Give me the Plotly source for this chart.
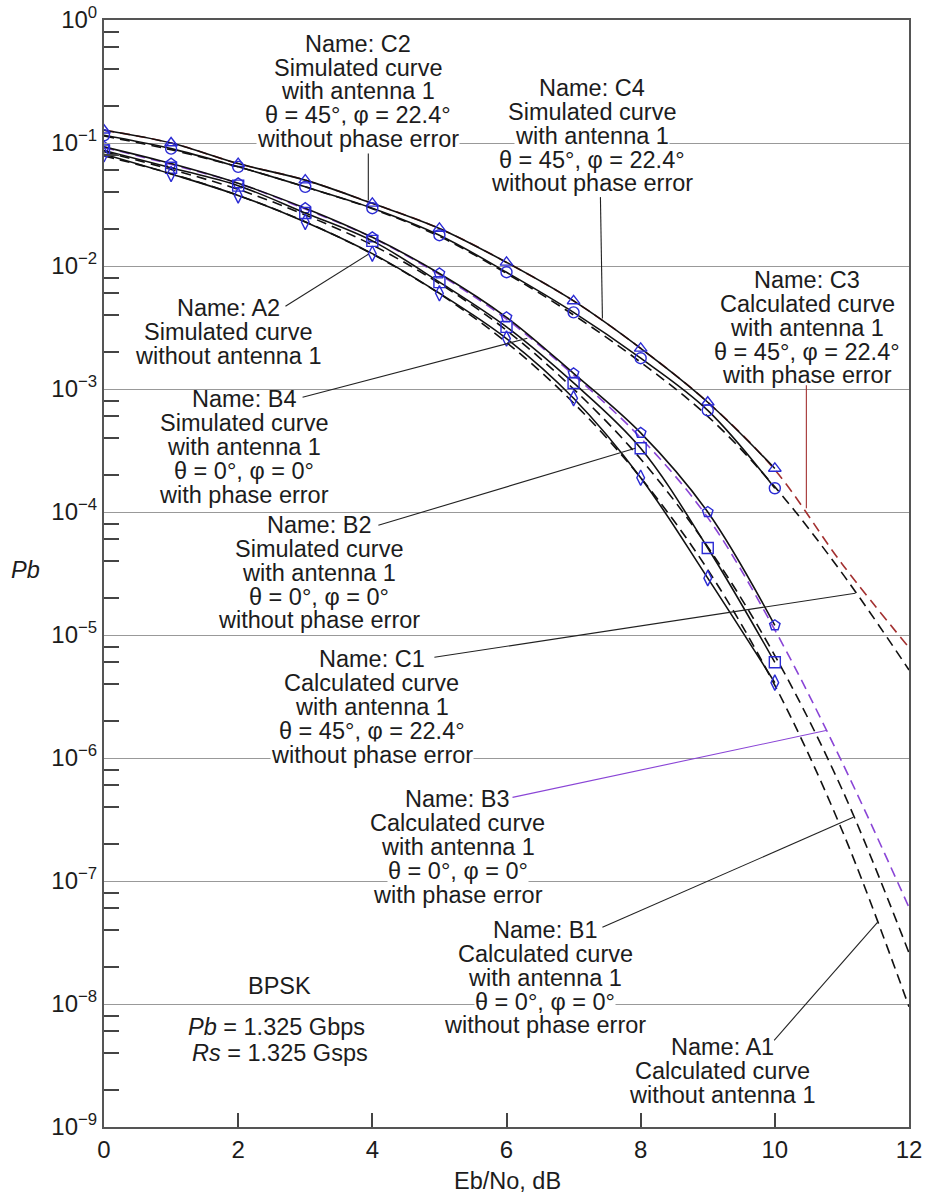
import plotly.graph_objects as go

# ---------------- data ----------------
eb_sim = [0, 1, 2, 3, 4, 5, 6, 7, 8, 9, 10]
eb_calc = [0, 1, 2, 3, 4, 5, 6, 7, 8, 9, 10, 11, 12]

# simulated curves (markers + solid line)
a2_sim = [0.081, 0.056, 0.0375, 0.0228, 0.0126, 0.0060, 0.00257, 8.4e-4, 1.9e-4, 2.9e-5, 4.1e-6]
b2_sim = [0.087, 0.063, 0.045, 0.027, 0.016, 0.0074, 0.0032, 1.12e-3, 3.3e-4, 5.1e-5, 6.0e-6]
b4_sim = [0.093, 0.068, 0.047, 0.0295, 0.0171, 0.0087, 0.00383, 1.34e-3, 4.4e-4, 1.0e-4, 1.2e-5]
c2_sim = [0.1155, 0.090, 0.064, 0.044, 0.0295, 0.0178, 0.0089, 0.0042, 1.78e-3, 6.7e-4, 1.56e-4]
c4_sim = [0.127, 0.100, 0.068, 0.0499, 0.0323, 0.0202, 0.0107, 0.0052, 2.14e-3, 7.8e-4, 2.26e-4]

# calculated curves (dashed)
a1_calc = [0.0786, 0.0563, 0.0375, 0.0229, 0.0125, 0.00595, 0.00239, 7.7e-4, 1.9e-4, 3.4e-5, 3.9e-6, 2.6e-7, 9.5e-9]
b1_calc = [0.085, 0.061, 0.042, 0.026, 0.0148, 0.0072, 0.0030, 1.0e-3, 2.7e-4, 5.2e-5, 6.8e-6, 5.6e-7, 2.6e-8]
b3_calc = [0.092, 0.067, 0.047, 0.029, 0.017, 0.0085, 0.0037, 1.3e-3, 4.0e-4, 9.0e-5, 1.1e-5, 9.3e-7, 6.1e-8]
c1_calc = [0.114, 0.088, 0.064, 0.044, 0.0292, 0.0174, 0.0087, 0.0040, 1.65e-3, 6.0e-4, 1.6e-4, 3.2e-5, 5.2e-6]
c3_calc = [0.127, 0.100, 0.068, 0.0499, 0.0323, 0.0202, 0.0107, 0.0052, 2.14e-3, 7.8e-4, 2.2e-4, 3.8e-5, 7.9e-6]

# axis ticks
x_tick_vals = [0, 2, 4, 6, 8, 10, 12]
x_tick_text = ["0", "2", "4", "6", "8", "10", "12"]
y_tick_vals = [1e0, 1e-1, 1e-2, 1e-3, 1e-4, 1e-5, 1e-6, 1e-7, 1e-8, 1e-9]
y_tick_text = ["10<sup>0</sup>", "10<sup>−1</sup>", "10<sup>−2</sup>", "10<sup>−3</sup>",
               "10<sup>−4</sup>", "10<sup>−5</sup>", "10<sup>−6</sup>", "10<sup>−7</sup>",
               "10<sup>−8</sup>", "10<sup>−9</sup>"]
minor_long_mult = [2, 4, 6, 8]
minor_short_mult = [3, 5, 7, 9]

# label texts
lbl_c2 = ["Name: C2", "Simulated curve", "with antenna 1", "θ = 45°, φ = 22.4°", "without phase error"]
lbl_c4 = ["Name: C4", "Simulated curve", "with antenna 1", "θ = 45°, φ = 22.4°", "without phase error"]
lbl_c3 = ["Name: C3", "Calculated curve", "with antenna 1", "θ = 45°, φ = 22.4°", "with phase error"]
lbl_a2 = ["Name: A2", "Simulated curve", "without antenna 1"]
lbl_b4 = ["Name: B4", "Simulated curve", "with antenna 1", "θ = 0°, φ = 0°", "with phase error"]
lbl_b2 = ["Name: B2", "Simulated curve", "with antenna 1", "θ = 0°, φ = 0°", "without phase error"]
lbl_c1 = ["Name: C1", "Calculated curve", "with antenna 1", "θ = 45°, φ = 22.4°", "without phase error"]
lbl_b3 = ["Name: B3", "Calculated curve", "with antenna 1", "θ = 0°, φ = 0°", "with phase error"]
lbl_b1 = ["Name: B1", "Calculated curve", "with antenna 1", "θ = 0°, φ = 0°", "without phase error"]
lbl_a1 = ["Name: A1", "Calculated curve", "without antenna 1"]

# ---------------- styling ----------------
FONT = "Liberation Sans, Arial, Helvetica, sans-serif"
FS = 23.5
TFS = 24
LINE_H = 23.8
BLUE = "#2b2bd4"
PURPLE = "#8a45d6"
DRED = "#a33030"
TXT = "#1c1c1c"
DASH = "10px,6px"

fig = go.Figure()

def calc_trace(y, color):
    fig.add_trace(go.Scatter(x=eb_calc, y=y, mode="lines",
                             line=dict(color=color, width=1.6, dash=DASH, shape="spline"),
                             showlegend=False, hoverinfo="skip"))

def sim_trace(y, symbol):
    fig.add_trace(go.Scatter(x=eb_sim, y=y, mode="lines+markers",
                             line=dict(color="#111111", width=1.6, shape="spline"),
                             marker=dict(symbol=symbol, size=11, color=BLUE,
                                         line=dict(width=1.4, color=BLUE)),
                             showlegend=False, hoverinfo="skip"))

calc_trace(c3_calc, DRED)
calc_trace(c1_calc, "#111111")
calc_trace(b3_calc, PURPLE)
calc_trace(b1_calc, "#111111")
calc_trace(a1_calc, "#111111")

sim_trace(c4_sim, "triangle-up-open")
sim_trace(c2_sim, "circle-open")
sim_trace(b4_sim, "pentagon-open")
sim_trace(b2_sim, "square-open")
sim_trace(a2_sim, "diamond-tall-open")

# ---------------- labels ----------------
def add_label(lines, x, logy, bg=(), size=FS):
    for i, t in enumerate(lines):
        fig.add_annotation(x=x, y=logy, xref="x", yref="y", text=t, showarrow=False,
                           yshift=-i * LINE_H, xanchor="center", yanchor="middle",
                           font=dict(family=FONT, size=size, color=TXT),
                           bgcolor="white" if i in bg else "rgba(0,0,0,0)", borderpad=0)

add_label(lbl_c2, 3.79, -0.194, bg=(4,))
add_label(lbl_c4, 7.28, -0.555, bg=(2,))
add_label(lbl_c3, 10.48, -2.116)
add_label(lbl_a2, 1.855, -2.344)
add_label(lbl_b4, 2.094, -3.084)
add_label(lbl_b2, 3.21, -4.108)
add_label(lbl_c1, 3.99, -5.198, bg=(4,))
add_label(lbl_b3, 5.27, -6.336, bg=(3,))
add_label(lbl_b1, 6.58, -7.40, bg=(3,))
add_label(lbl_a1, 9.22, -8.352)

# BPSK block
fig.add_annotation(x=2.615, y=-7.856, xref="x", yref="y", text="BPSK", showarrow=False,
                   xanchor="center", font=dict(family=FONT, size=FS, color=TXT))
fig.add_annotation(x=2.57, y=-8.19, xref="x", yref="y", text="<i>Pb</i> = 1.325 Gbps",
                   showarrow=False, xanchor="center", font=dict(family=FONT, size=FS, color=TXT))
fig.add_annotation(x=2.63, y=-8.40, xref="x", yref="y", text="<i>Rs</i> = 1.325 Gsps",
                   showarrow=False, xanchor="center", font=dict(family=FONT, size=FS, color=TXT))

# axis titles
fig.add_annotation(x=-0.097, y=-4.475, xref="paper", yref="y", text="<i>Pb</i>",
                   showarrow=False, xanchor="center", yanchor="middle",
                   font=dict(family=FONT, size=FS, color=TXT))
fig.add_annotation(x=0.501, y=-0.049, xref="paper", yref="paper", text="Eb/No, dB",
                   showarrow=False, xanchor="center", yanchor="middle",
                   font=dict(family=FONT, size=FS, color=TXT))

# ---------------- leader lines ----------------
def leader(x0, ly0, x1, ly1, color="#222222"):
    fig.add_shape(type="line", xref="x", yref="y", x0=x0, y0=10 ** ly0, x1=x1, y1=10 ** ly1,
                  line=dict(color=color, width=1.1))

leader(3.94, -1.085, 3.94, -1.467)
leader(7.40, -1.44, 7.43, -2.427)
leader(10.47, -2.97, 10.47, -3.97, DRED)
leader(2.705, -2.328, 3.94, -1.905)
leader(2.96, -3.067, 6.31, -2.588)
leader(4.09, -4.108, 7.92, -3.482)
leader(4.925, -5.181, 11.2, -4.661)
leader(6.09, -6.32, 10.78, -5.775, PURPLE)
leader(7.43, -7.377, 11.17, -6.482)
leader(9.99, -8.295, 11.53, -7.336)

# ---------------- axes / layout ----------------
decades = range(-9, 0)
fig.update_xaxes(range=[0, 12], tickvals=x_tick_vals, ticktext=x_tick_text,
                 ticks="inside", ticklen=14, tickwidth=1.5, tickcolor="#444444",
                 showgrid=False, zeroline=False, showline=True, linecolor="#555555",
                 linewidth=2, mirror=True, automargin=False,
                 tickfont=dict(family=FONT, size=TFS, color=TXT))
fig.update_yaxes(type="log", range=[-9, 0], tickvals=y_tick_vals, ticktext=y_tick_text,
                 ticks="inside", ticklen=10, tickwidth=1, tickcolor="#999999",
                 showgrid=True, gridcolor="#999999", gridwidth=1,
                 zeroline=False, showline=True, linecolor="#555555", linewidth=2, mirror=True,
                 automargin=False,
                 tickfont=dict(family=FONT, size=TFS, color=TXT),
                 minor=dict(tickvals=[m * 10.0 ** e for e in decades for m in minor_long_mult],
                            ticks="inside", ticklen=15, tickwidth=1.5, tickcolor="#444444",
                            showgrid=False))

fig.update_layout(
    width=927, height=1197, paper_bgcolor="white", plot_bgcolor="white",
    margin=dict(l=104, r=18, t=20, b=70, autoexpand=False), showlegend=False,
    font=dict(family=FONT, size=FS, color=TXT),
    yaxis2=dict(type="log", range=[-9, 0], overlaying="y", side="left", anchor="x",
                tickmode="array",
                tickvals=[m * 10.0 ** e for e in decades for m in minor_short_mult],
                ticktext=["" for e in decades for m in minor_short_mult],
                ticks="inside", ticklen=8, tickwidth=1.5, tickcolor="#444444",
                showticklabels=False, showgrid=False, zeroline=False, showline=False,
                automargin=False),
)

fig.write_html("out.html", config={"displayModeBar": False},
               post_script="document.body.style.margin='0';")
